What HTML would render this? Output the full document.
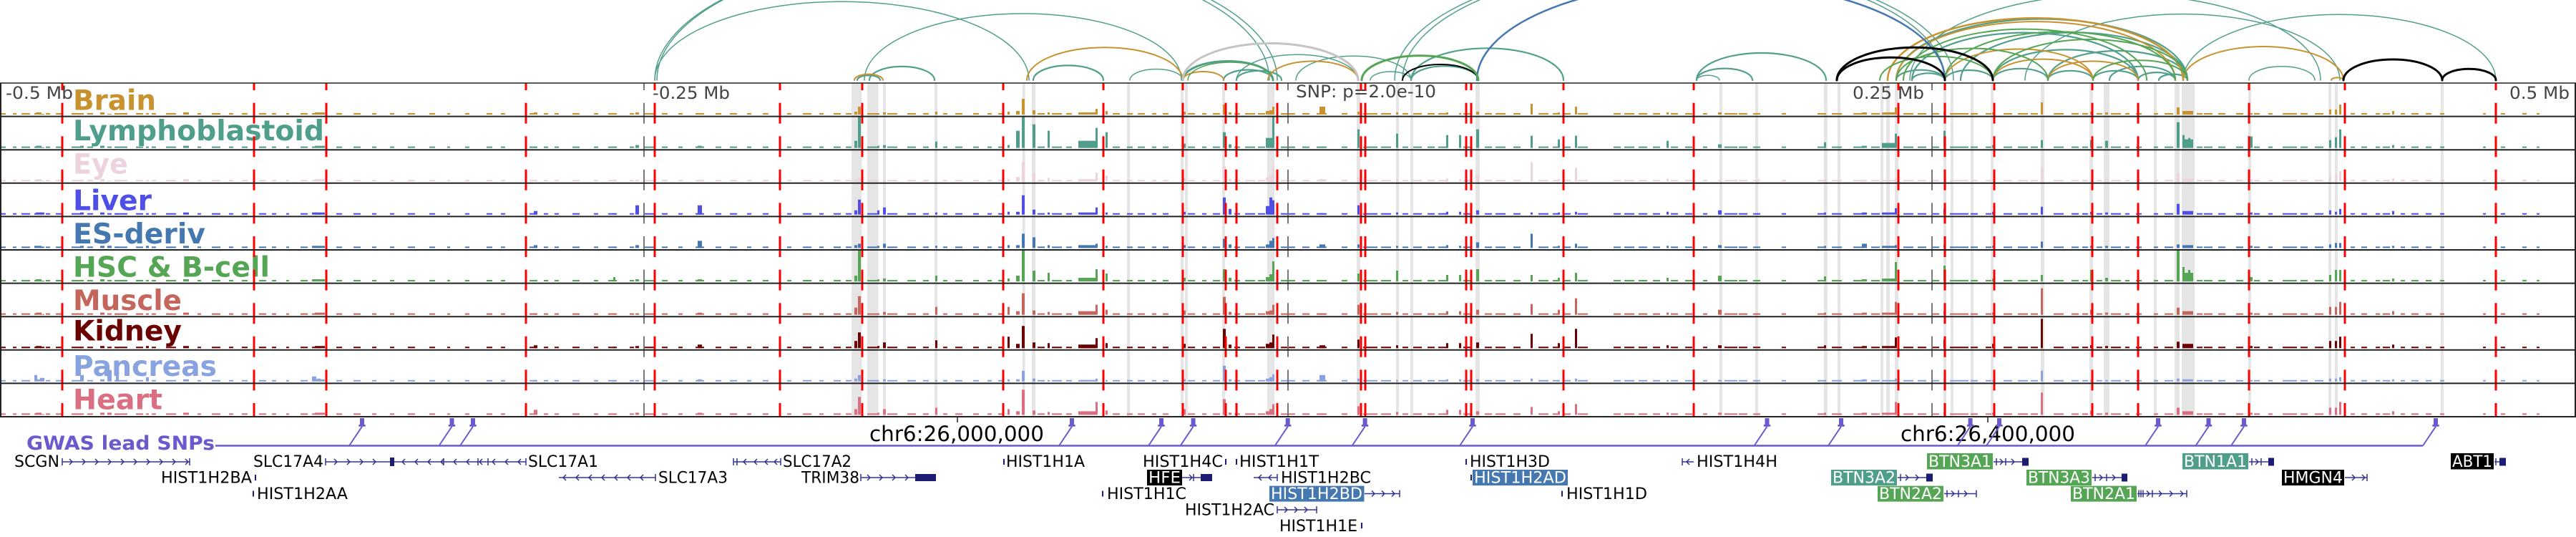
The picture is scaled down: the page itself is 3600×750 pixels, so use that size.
<!DOCTYPE html>
<html><head><meta charset="utf-8"><style>
html,body{margin:0;padding:0;background:#fff;}
svg{display:block;}
text{font-family:"DejaVu Sans","Liberation Sans",sans-serif;}
</style></head><body>
<svg width="3600" height="750" viewBox="0 0 3600 750" xmlns="http://www.w3.org/2000/svg">
<defs>
<clipPath id="arcclip"><rect x="0" y="0" width="3600" height="114"/></clipPath>
<path id="noise" d="M2 0h6v-2h-6zM18 0h5v-2h-5zM30 0h12v-2h-12zM50 0h8v-3h-8zM64 0h6v-2h-6zM78 0h10v-2h-10zM100 0h14v-2h-14zM122 0h8v-2h-8zM140 0h6v-3h-6zM160 0h18v-2h-18zM190 0h10v-2h-10zM212 0h6v-2h-6zM232 0h14v-2h-14zM256 0h8v-3h-8zM276 0h5v-2h-5zM296 0h12v-2h-12zM320 0h6v-2h-6zM338 0h8v-2h-8zM362 0h10v-2h-10zM380 0h6v-2h-6zM400 0h4v-2h-4zM420 0h10v-2h-10zM440 0h14v-3h-14zM470 0h8v-2h-8zM494 0h10v-2h-10zM520 0h6v-2h-6zM545 0h6v-2h-6zM570 0h10v-2h-10zM600 0h8v-2h-8zM625 0h4v-2h-4zM650 0h6v-2h-6zM680 0h8v-2h-8zM700 0h6v-2h-6zM740 0h10v-2h-10zM760 0h6v-2h-6zM775 0h6v-2h-6zM800 0h10v-2h-10zM830 0h6v-2h-6zM850 0h12v-2h-12zM880 0h6v-2h-6zM900 0h14v-2h-14zM925 0h8v-2h-8zM948 0h6v-2h-6zM972 0h12v-2h-12zM1000 0h8v-2h-8zM1020 0h10v-2h-10zM1044 0h6v-2h-6zM1066 0h8v-2h-8zM1100 0h6v-2h-6zM1122 0h12v-2h-12zM1145 0h6v-2h-6zM1165 0h10v-2h-10zM1182 0h8v-2h-8zM1212 0h16v-2h-16zM1240 0h14v-2h-14zM1268 0h12v-2h-12zM1290 0h8v-2h-8zM1318 0h6v-2h-6zM1335 0h10v-2h-10zM1360 0h8v-2h-8zM1380 0h6v-2h-6zM1395 0h6v-2h-6zM1450 0h10v-2h-10zM1470 0h14v-2h-14zM1490 0h8v-2h-8zM1510 0h22v-2h-22zM1555 0h10v-2h-10zM1575 0h8v-2h-8zM1590 0h10v-2h-10zM1610 0h6v-2h-6zM1625 0h8v-2h-8zM1660 0h10v-2h-10zM1680 0h6v-2h-6zM1695 0h10v-2h-10zM1725 0h8v-2h-8zM1740 0h14v-2h-14zM1758 0h10v-2h-10zM1790 0h20v-2h-20zM1820 0h10v-2h-10zM1840 0h14v-2h-14zM1875 0h8v-2h-8zM1905 0h20v-2h-20zM1930 0h14v-2h-14zM1960 0h8v-2h-8zM1975 0h12v-2h-12zM1995 0h10v-2h-10zM2010 0h12v-2h-12zM2045 0h10v-2h-10zM2075 0h10v-2h-10zM2090 0h14v-2h-14zM2115 0h10v-2h-10zM2150 0h14v-2h-14zM2170 0h8v-2h-8zM2185 0h10v-2h-10zM2205 0h14v-2h-14zM2255 0h10v-2h-10zM2270 0h14v-2h-14zM2290 0h12v-2h-12zM2310 0h10v-2h-10zM2335 0h10v-2h-10zM2355 0h10v-2h-10zM2380 0h6v-2h-6zM2410 0h18v-2h-18zM2430 0h12v-2h-12zM2450 0h10v-2h-10zM2490 0h6v-2h-6zM2540 0h12v-2h-12zM2560 0h14v-2h-14zM2590 0h16v-2h-16zM2615 0h12v-2h-12zM2660 0h14v-2h-14zM2680 0h12v-2h-12zM2700 0h10v-2h-10zM2725 0h26v-2h-26zM2754 0h10v-2h-10zM2775 0h8v-2h-8zM2800 0h12v-2h-12zM2820 0h14v-2h-14zM2838 0h10v-2h-10zM2870 0h14v-2h-14zM2895 0h10v-2h-10zM2910 0h8v-2h-8zM2930 0h8v-2h-8zM2950 0h14v-2h-14zM2970 0h6v-2h-6zM2985 0h8v-2h-8zM3010 0h6v-2h-6zM3025 0h12v-2h-12zM3070 0h8v-2h-8zM3080 0h12v-2h-12zM3100 0h10v-2h-10zM3125 0h10v-2h-10zM3150 0h8v-2h-8zM3170 0h6v-2h-6zM3190 0h20v-2h-20zM3215 0h10v-2h-10zM3235 0h12v-2h-12zM3285 0h6v-2h-6zM3300 0h8v-2h-8zM3320 0h6v-2h-6zM3330 0h10v-2h-10zM3355 0h6v-2h-6zM3370 0h10v-2h-10zM3390 0h8v-2h-8zM3410 0h6v-2h-6zM3470 0h4v-2h-4zM3495 0h6v-2h-6zM3525 0h6v-2h-6zM3545 0h4v-2h-4z"/>
</defs>
<rect x="0" y="0" width="3600" height="750" fill="#fff"/>

<!-- arcs -->
<g clip-path="url(#arcclip)" fill="none" stroke-linecap="round">
<g stroke="#52a08c" stroke-width="1.5">
<path d="M915 112A429.5 180.4 0 0 1 1774 112"/>
<path d="M918 112A433.5 182 0 0 1 1785 112"/>
<path d="M915 112A261.5 109.8 0 0 1 1438 112"/>
<path d="M1208 112A221.5 93 0 0 1 1651 112"/>
<path d="M1579 112A37 15.5 0 0 1 1653 112"/>
<path d="M1728 112A85 35.7 0 0 1 1898 112"/>
<path d="M1811 112A80.5 33.8 0 0 1 1972 112"/>
<path d="M1915 112A28.5 12 0 0 1 1972 112"/>
<path d="M1949 112A384.5 161.5 0 0 1 2718 112"/>
<path d="M1960 112A385 161.7 0 0 1 2730 112"/>
<path d="M2371 112A16 6.7 0 0 1 2403 112"/>
<path d="M2669 112A287 120.5 0 0 1 3243 112"/>
<path d="M2830 112A220 92.4 0 0 1 3270 112"/>
<path d="M3051 112A218.5 91.8 0 0 1 3488 112"/>
<path d="M3143 112A46 19.3 0 0 1 3235 112"/>
</g>
<g stroke="#52a08c" stroke-width="2.2">
<path d="M1215 112A45.5 19.1 0 0 1 1306 112"/>
<path d="M1198 112A16 6.7 0 0 1 1230 112"/>
<path d="M1444 112A49 20.6 0 0 1 1542 112"/>
<path d="M1710 112A34.5 14.5 0 0 1 1779 112"/>
<path d="M1728 112A31.5 13.2 0 0 1 1791 112"/>
<path d="M1972 112A47 19.7 0 0 1 2066 112"/>
<path d="M1972 112A106.5 44.7 0 0 1 2185 112"/>
<path d="M2371 112A90.5 38 0 0 1 2552 112"/>
<path d="M2371 112A39 16.4 0 0 1 2449 112"/>
<path d="M2650 112A203.5 85.5 0 0 1 3057 112"/>
<path d="M2672 112A158 66.4 0 0 1 2988 112"/>
<path d="M2740 112A158.5 66.6 0 0 1 3057 112"/>
<path d="M2785 112A101.5 42.6 0 0 1 2988 112"/>
<path d="M2862 112A97.5 41 0 0 1 3057 112"/>
<path d="M2948 112A46 19.3 0 0 1 3040 112"/>
<path d="M2650 112A34 14.3 0 0 1 2718 112"/>
<path d="M2672 112A23 9.7 0 0 1 2718 112"/>
<path d="M2718 112A33.5 14 0 0 1 2785 112"/>
<path d="M2785 112A38.5 16.2 0 0 1 2862 112"/>
<path d="M2862 112A31.5 13.2 0 0 1 2925 112"/>
<path d="M2925 112A31.5 13.2 0 0 1 2988 112"/>
<path d="M2988 112A26 10.9 0 0 1 3040 112"/>
<path d="M3017 112A20 8.4 0 0 1 3057 112"/>
</g>
<path d="M1653 112A63 26.5 0 0 1 1779 112" stroke="#52a08c" stroke-width="3"/>
<g stroke="#c8922e" stroke-width="2">
<path d="M1194 112A20 8.4 0 0 1 1234 112"/>
<path d="M1435 112A109 45.8 0 0 1 1653 112"/>
<path d="M1653 112A28.5 12 0 0 1 1710 112"/>
<path d="M1772 112A63 26.5 0 0 1 1898 112"/>
<path d="M2638 112A206.5 86.7 0 0 1 3051 112" stroke-width="2.5"/>
<path d="M2650 112A195 81.9 0 0 1 3040 112"/>
<path d="M2718 112A103.5 43.5 0 0 1 2925 112"/>
<path d="M2785 112A70 29.4 0 0 1 2925 112"/>
<path d="M2862 112A63 26.5 0 0 1 2988 112"/>
<path d="M3051 112A112 47 0 0 1 3275 112"/>
<path d="M3258 112A8.5 3.6 0 0 1 3275 112"/>
</g>
<g stroke="#55a654" stroke-width="2">
<path d="M1660 112A59.5 25 0 0 1 1779 112" stroke-width="1.5"/>
<path d="M2660 112A170 71.4 0 0 1 3000 112"/>
<path d="M2718 112A161 67.6 0 0 1 3040 112"/>
<path d="M2785 112A136 57 0 0 1 3057 112"/>
<path d="M2925 112A66 27.7 0 0 1 3057 112"/>
<path d="M2627 112A79 33.2 0 0 1 2785 112"/>
<path d="M2650 112A106 44.5 0 0 1 2862 112"/>
</g>
<path d="M1653 112A122.5 51.5 0 0 1 1898 112" stroke="#c4c4c4" stroke-width="3"/>
<path d="M2064 112A327 137.3 0 0 1 2718 112" stroke="#4577b0" stroke-width="2.5"/>
<g stroke="#000" stroke-width="3">
<path d="M1960 112A53 22 0 0 1 2066 112" stroke-width="2"/>
<path d="M2567 112A109 45.8 0 0 1 2785 112"/>
<path d="M2567 112A75.5 31.7 0 0 1 2718 112"/>
<path d="M3275 112A69 29 0 0 1 3413 112"/>
<path d="M3413 112A37.5 15.8 0 0 1 3488 112"/>
</g>
<path d="M1903 112A81.5 34.2 0 0 1 2066 112" stroke="#55a654" stroke-width="3"/>
</g>

<!-- gray bands -->
<g fill="#e5e5e5">
<rect x="1190" y="116" width="14.5" height="466"/>
<rect x="1212" y="116" width="15.5" height="466"/>
<rect x="1234" y="116" width="4" height="466"/>
<rect x="1306" y="116" width="4" height="466"/>
<rect x="1429" y="116" width="3.5" height="466"/>
<rect x="1442" y="116" width="5" height="466"/>
<rect x="1575" y="116" width="4" height="466"/>
<rect x="1650" y="116" width="4" height="466"/>
<rect x="1656" y="116" width="4" height="466"/>
<rect x="1708" y="116" width="4" height="466"/>
<rect x="1771" y="116" width="10" height="466"/>
<rect x="1896" y="116" width="5" height="466"/>
<rect x="1951" y="116" width="4" height="466"/>
<rect x="1971" y="116" width="4" height="466"/>
<rect x="2062" y="116" width="6" height="466"/>
<rect x="2403" y="116" width="4" height="466"/>
<rect x="2453" y="116" width="4" height="466"/>
<rect x="2549" y="116" width="5" height="466"/>
<rect x="2568" y="116" width="4" height="466"/>
<rect x="2628" y="116" width="4" height="466"/>
<rect x="2636" y="116" width="5" height="466"/>
<rect x="2648" y="116" width="5" height="466"/>
<rect x="2716" y="116" width="4" height="466"/>
<rect x="2726" y="116" width="4" height="466"/>
<rect x="2754" y="116" width="4" height="466"/>
<rect x="2782" y="116" width="4" height="466"/>
<rect x="2852" y="116" width="5" height="466"/>
<rect x="2920" y="116" width="5" height="466"/>
<rect x="2940" y="116" width="8" height="466"/>
<rect x="3010" y="116" width="4" height="466"/>
<rect x="3039" y="116" width="7" height="466"/>
<rect x="3049" y="116" width="18" height="466"/>
<rect x="3142" y="116" width="4" height="466"/>
<rect x="3254" y="116" width="4" height="466"/>
<rect x="3263" y="116" width="4" height="466"/>
<rect x="3411" y="116" width="4" height="466"/>
</g>

<!-- signal tracks -->
<g transform="translate(0,160)" fill="#c8922e"><use href="#noise"/><path d="M48 0h4v-2h-4zM56 0h6v-1h-6zM112 0h5v-2h-5zM150 0h6v-1h-6zM162 0h4v-1h-4zM204 0h4v-2h-4zM436 0h6v-2h-6zM443 0h5v-1h-5zM746 0h5v-3h-5zM857 0h3v-1h-3zM888 0h5v-3h-5zM975 0h6v-2h-6zM1194 0h4v-4h-4zM1199 0h4v-11h-4zM1226 0h3v-2h-3zM1234 0h4v-3h-4zM1307 0h3v-4h-3zM1408 0h3v-4h-3zM1420 0h5v-5h-5zM1428 0h4v-22h-4zM1443 0h4v-6h-4zM1464 0h3v-3h-3zM1507 0h24v-3h-24zM1531 0h3v-8h-3zM1545 0h3v-5h-3zM1653 0h4v-4h-4zM1709 0h4v-14h-4zM1717 0h4v-3h-4zM1769 0h10v-5h-10zM1774 0h4v-6h-4zM1778 0h3v-11h-3zM1844 0h8v-11h-8zM1897 0h3v-4h-3zM1951 0h3v-3h-3zM2021 0h3v-3h-3zM2039 0h3v-2h-3zM2063 0h4v-4h-4zM2139 0h3v-15h-3zM2177 0h3v-3h-3zM2201 0h3v-11h-3zM2329 0h3v-3h-3zM2401 0h5v-3h-5zM2549 0h3v-2h-3zM2602 0h7v-3h-7zM2630 0h18v-3h-18zM2648 0h3v-10h-3zM2716 0h3v-4h-3zM2784 0h3v-3h-3zM2852 0h3v-17h-3zM2921 0h3v-4h-3zM2942 0h4v-3h-4zM3042 0h4v-10h-4zM3050 0h15v-5h-15zM3050 0h3v-4h-3zM3058 0h3v-3h-3zM3144 0h4v-2h-4zM3255 0h3v-7h-3zM3263 0h3v-7h-3zM3269 0h3v-14h-3zM3343 0h3v-5h-3z"/></g>
<g transform="translate(0,206.6)" fill="#4f9e8b"><use href="#noise"/><path d="M48 0h4v-2h-4zM56 0h6v-1h-6zM112 0h5v-3h-5zM150 0h6v-2h-6zM162 0h4v-1h-4zM204 0h4v-2h-4zM436 0h6v-2h-6zM443 0h5v-1h-5zM746 0h5v-2h-5zM857 0h3v-2h-3zM888 0h5v-4h-5zM975 0h6v-3h-6zM1194 0h4v-10h-4zM1199 0h4v-44h-4zM1226 0h3v-3h-3zM1234 0h4v-4h-4zM1307 0h3v-9h-3zM1408 0h3v-4h-3zM1420 0h5v-24h-5zM1428 0h4v-44h-4zM1443 0h4v-33h-4zM1464 0h3v-24h-3zM1507 0h24v-10h-24zM1531 0h3v-28h-3zM1545 0h3v-22h-3zM1653 0h4v-6h-4zM1709 0h4v-22h-4zM1717 0h4v-5h-4zM1769 0h10v-14h-10zM1774 0h4v-10h-4zM1778 0h3v-44h-3zM1844 0h8v-2h-8zM1897 0h3v-26h-3zM1951 0h3v-20h-3zM2021 0h3v-18h-3zM2039 0h3v-18h-3zM2063 0h4v-26h-4zM2139 0h3v-17h-3zM2177 0h3v-12h-3zM2201 0h3v-17h-3zM2329 0h3v-10h-3zM2401 0h5v-5h-5zM2549 0h3v-8h-3zM2602 0h7v-3h-7zM2630 0h18v-7h-18zM2648 0h3v-20h-3zM2716 0h3v-24h-3zM2784 0h3v-4h-3zM2852 0h3v-11h-3zM2921 0h3v-11h-3zM2942 0h4v-10h-4zM3042 0h4v-36h-4zM3050 0h15v-12h-15zM3050 0h3v-18h-3zM3058 0h3v-14h-3zM3144 0h4v-16h-4zM3255 0h3v-11h-3zM3263 0h3v-15h-3zM3269 0h3v-26h-3zM3343 0h3v-4h-3z"/></g>
<g transform="translate(0,253.2)" fill="#ecd3de"><use href="#noise"/><path d="M48 0h4v-2h-4zM56 0h6v-1h-6zM112 0h5v-2h-5zM150 0h6v-1h-6zM162 0h4v-1h-4zM204 0h4v-2h-4zM436 0h6v-2h-6zM443 0h5v-1h-5zM746 0h5v-2h-5zM857 0h3v-1h-3zM888 0h5v-2h-5zM975 0h6v-2h-6zM1194 0h4v-3h-4zM1199 0h4v-5h-4zM1226 0h3v-1h-3zM1234 0h4v-2h-4zM1307 0h3v-2h-3zM1408 0h3v-3h-3zM1420 0h5v-6h-5zM1428 0h4v-27h-4zM1443 0h4v-12h-4zM1464 0h3v-5h-3zM1507 0h24v-3h-24zM1531 0h3v-12h-3zM1545 0h3v-8h-3zM1653 0h4v-4h-4zM1709 0h4v-21h-4zM1717 0h4v-3h-4zM1769 0h10v-5h-10zM1774 0h4v-8h-4zM1778 0h3v-21h-3zM1844 0h8v-3h-8zM1897 0h3v-5h-3zM1951 0h3v-3h-3zM2021 0h3v-4h-3zM2039 0h3v-3h-3zM2063 0h4v-9h-4zM2139 0h3v-27h-3zM2177 0h3v-3h-3zM2201 0h3v-19h-3zM2329 0h3v-4h-3zM2401 0h5v-2h-5zM2549 0h3v-3h-3zM2602 0h7v-2h-7zM2630 0h18v-2h-18zM2648 0h3v-4h-3zM2716 0h3v-4h-3zM2784 0h3v-3h-3zM2852 0h3v-20h-3zM2921 0h3v-3h-3zM2942 0h4v-3h-4zM3042 0h4v-12h-4zM3050 0h15v-4h-15zM3050 0h3v-4h-3zM3058 0h3v-3h-3zM3144 0h4v-3h-4zM3255 0h3v-7h-3zM3263 0h3v-10h-3zM3269 0h3v-14h-3zM3343 0h3v-4h-3z"/></g>
<g transform="translate(0,299.8)" fill="#4f4fe8"><use href="#noise"/><path d="M48 0h4v-2h-4zM56 0h6v-3h-6zM112 0h5v-3h-5zM150 0h6v-2h-6zM162 0h4v-1h-4zM204 0h4v-2h-4zM436 0h6v-3h-6zM443 0h5v-2h-5zM746 0h5v-5h-5zM857 0h3v-2h-3zM888 0h5v-13h-5zM975 0h6v-13h-6zM1194 0h4v-6h-4zM1199 0h4v-21h-4zM1226 0h3v-6h-3zM1234 0h4v-10h-4zM1307 0h3v-3h-3zM1408 0h3v-4h-3zM1420 0h5v-4h-5zM1428 0h4v-27h-4zM1443 0h4v-7h-4zM1464 0h3v-3h-3zM1507 0h24v-3h-24zM1531 0h3v-10h-3zM1545 0h3v-3h-3zM1653 0h4v-4h-4zM1709 0h4v-24h-4zM1717 0h4v-8h-4zM1769 0h10v-12h-10zM1774 0h4v-24h-4zM1778 0h3v-20h-3zM1844 0h8v-2h-8zM1897 0h3v-13h-3zM1951 0h3v-3h-3zM2021 0h3v-4h-3zM2039 0h3v-4h-3zM2063 0h4v-6h-4zM2139 0h3v-3h-3zM2177 0h3v-3h-3zM2201 0h3v-4h-3zM2329 0h3v-4h-3zM2401 0h5v-6h-5zM2549 0h3v-3h-3zM2602 0h7v-3h-7zM2630 0h18v-3h-18zM2648 0h3v-9h-3zM2716 0h3v-8h-3zM2784 0h3v-4h-3zM2852 0h3v-11h-3zM2921 0h3v-4h-3zM2942 0h4v-3h-4zM3042 0h4v-15h-4zM3050 0h15v-5h-15zM3050 0h3v-4h-3zM3058 0h3v-3h-3zM3144 0h4v-3h-4zM3255 0h3v-6h-3zM3263 0h3v-4h-3zM3269 0h3v-8h-3zM3343 0h3v-5h-3z"/></g>
<g transform="translate(0,346.4)" fill="#4577b0"><use href="#noise"/><path d="M48 0h4v-3h-4zM56 0h6v-2h-6zM112 0h5v-3h-5zM150 0h6v-3h-6zM162 0h4v-2h-4zM204 0h4v-3h-4zM436 0h6v-3h-6zM443 0h5v-2h-5zM746 0h5v-4h-5zM857 0h3v-2h-3zM888 0h5v-4h-5zM975 0h6v-10h-6zM1194 0h4v-4h-4zM1199 0h4v-6h-4zM1226 0h3v-3h-3zM1234 0h4v-6h-4zM1307 0h3v-3h-3zM1408 0h3v-4h-3zM1420 0h5v-4h-5zM1428 0h4v-20h-4zM1443 0h4v-15h-4zM1464 0h3v-4h-3zM1507 0h24v-4h-24zM1531 0h3v-6h-3zM1545 0h3v-3h-3zM1653 0h4v-4h-4zM1709 0h4v-13h-4zM1717 0h4v-5h-4zM1769 0h10v-5h-10zM1774 0h4v-10h-4zM1778 0h3v-14h-3zM1844 0h8v-5h-8zM1897 0h3v-5h-3zM1951 0h3v-3h-3zM2021 0h3v-4h-3zM2039 0h3v-3h-3zM2063 0h4v-8h-4zM2139 0h3v-20h-3zM2177 0h3v-3h-3zM2201 0h3v-6h-3zM2329 0h3v-3h-3zM2401 0h5v-4h-5zM2549 0h3v-3h-3zM2602 0h7v-6h-7zM2630 0h18v-3h-18zM2648 0h3v-4h-3zM2716 0h3v-4h-3zM2784 0h3v-3h-3zM2852 0h3v-9h-3zM2921 0h3v-3h-3zM2942 0h4v-3h-4zM3042 0h4v-5h-4zM3050 0h15v-4h-15zM3050 0h3v-3h-3zM3058 0h3v-3h-3zM3144 0h4v-3h-4zM3255 0h3v-5h-3zM3263 0h3v-7h-3zM3269 0h3v-7h-3zM3343 0h3v-3h-3z"/></g>
<g transform="translate(0,393)" fill="#55a654"><use href="#noise"/><path d="M48 0h4v-2h-4zM56 0h6v-1h-6zM112 0h5v-2h-5zM150 0h6v-2h-6zM162 0h4v-1h-4zM204 0h4v-2h-4zM436 0h6v-3h-6zM443 0h5v-2h-5zM746 0h5v-2h-5zM857 0h3v-6h-3zM888 0h5v-3h-5zM975 0h6v-3h-6zM1194 0h4v-8h-4zM1199 0h4v-44h-4zM1226 0h3v-3h-3zM1234 0h4v-4h-4zM1307 0h3v-8h-3zM1408 0h3v-4h-3zM1420 0h5v-8h-5zM1428 0h4v-44h-4zM1443 0h4v-15h-4zM1464 0h3v-12h-3zM1507 0h24v-5h-24zM1531 0h3v-17h-3zM1545 0h3v-11h-3zM1653 0h4v-5h-4zM1709 0h4v-17h-4zM1717 0h4v-5h-4zM1769 0h10v-6h-10zM1774 0h4v-10h-4zM1778 0h3v-28h-3zM1844 0h8v-2h-8zM1897 0h3v-11h-3zM1951 0h3v-15h-3zM2021 0h3v-9h-3zM2039 0h3v-9h-3zM2063 0h4v-17h-4zM2139 0h3v-9h-3zM2177 0h3v-5h-3zM2201 0h3v-12h-3zM2329 0h3v-5h-3zM2401 0h5v-8h-5zM2549 0h3v-7h-3zM2602 0h7v-3h-7zM2630 0h18v-4h-18zM2648 0h3v-27h-3zM2716 0h3v-22h-3zM2784 0h3v-4h-3zM2852 0h3v-9h-3zM2921 0h3v-16h-3zM2942 0h4v-5h-4zM3042 0h4v-44h-4zM3050 0h15v-12h-15zM3050 0h3v-20h-3zM3058 0h3v-16h-3zM3144 0h4v-6h-4zM3255 0h3v-9h-3zM3263 0h3v-16h-3zM3269 0h3v-16h-3zM3343 0h3v-4h-3z"/></g>
<g transform="translate(0,439.6)" fill="#c4665c"><use href="#noise"/><path d="M48 0h4v-2h-4zM56 0h6v-1h-6zM112 0h5v-2h-5zM150 0h6v-2h-6zM162 0h4v-1h-4zM204 0h4v-2h-4zM436 0h6v-2h-6zM443 0h5v-1h-5zM746 0h5v-2h-5zM857 0h3v-2h-3zM888 0h5v-2h-5zM975 0h6v-3h-6zM1194 0h4v-10h-4zM1199 0h4v-26h-4zM1226 0h3v-2h-3zM1234 0h4v-4h-4zM1307 0h3v-11h-3zM1408 0h3v-11h-3zM1420 0h5v-5h-5zM1428 0h4v-30h-4zM1443 0h4v-6h-4zM1464 0h3v-4h-3zM1507 0h24v-5h-24zM1531 0h3v-14h-3zM1545 0h3v-7h-3zM1653 0h4v-6h-4zM1709 0h4v-25h-4zM1717 0h4v-4h-4zM1769 0h10v-5h-10zM1774 0h4v-6h-4zM1778 0h3v-14h-3zM1844 0h8v-2h-8zM1897 0h3v-14h-3zM1951 0h3v-4h-3zM2021 0h3v-5h-3zM2039 0h3v-5h-3zM2063 0h4v-7h-4zM2139 0h3v-15h-3zM2177 0h3v-7h-3zM2201 0h3v-23h-3zM2329 0h3v-3h-3zM2401 0h5v-7h-5zM2549 0h3v-3h-3zM2602 0h7v-3h-7zM2630 0h18v-3h-18zM2648 0h3v-18h-3zM2716 0h3v-5h-3zM2784 0h3v-3h-3zM2852 0h3v-37h-3zM2921 0h3v-7h-3zM2942 0h4v-3h-4zM3042 0h4v-10h-4zM3050 0h15v-5h-15zM3050 0h3v-4h-3zM3058 0h3v-3h-3zM3144 0h4v-3h-4zM3255 0h3v-11h-3zM3263 0h3v-11h-3zM3269 0h3v-18h-3zM3343 0h3v-5h-3z"/></g>
<g transform="translate(0,486.2)" fill="#6b0000"><use href="#noise"/><path d="M48 0h4v-2h-4zM56 0h6v-2h-6zM112 0h5v-2h-5zM150 0h6v-2h-6zM162 0h4v-1h-4zM204 0h4v-3h-4zM436 0h6v-2h-6zM443 0h5v-2h-5zM746 0h5v-4h-5zM857 0h3v-2h-3zM888 0h5v-3h-5zM975 0h6v-5h-6zM1194 0h4v-10h-4zM1199 0h4v-22h-4zM1226 0h3v-3h-3zM1234 0h4v-8h-4zM1307 0h3v-11h-3zM1408 0h3v-16h-3zM1420 0h5v-6h-5zM1428 0h4v-31h-4zM1443 0h4v-8h-4zM1464 0h3v-7h-3zM1507 0h24v-5h-24zM1531 0h3v-14h-3zM1545 0h3v-7h-3zM1653 0h4v-6h-4zM1709 0h4v-27h-4zM1717 0h4v-5h-4zM1769 0h10v-6h-10zM1774 0h4v-8h-4zM1778 0h3v-19h-3zM1844 0h8v-4h-8zM1897 0h3v-12h-3zM1951 0h3v-4h-3zM2021 0h3v-7h-3zM2039 0h3v-7h-3zM2063 0h4v-8h-4zM2139 0h3v-20h-3zM2177 0h3v-7h-3zM2201 0h3v-27h-3zM2329 0h3v-4h-3zM2401 0h5v-4h-5zM2549 0h3v-4h-3zM2602 0h7v-3h-7zM2630 0h18v-3h-18zM2648 0h3v-15h-3zM2716 0h3v-12h-3zM2784 0h3v-6h-3zM2852 0h3v-41h-3zM2921 0h3v-4h-3zM2942 0h4v-3h-4zM3042 0h4v-9h-4zM3050 0h15v-6h-15zM3050 0h3v-5h-3zM3058 0h3v-4h-3zM3144 0h4v-3h-4zM3255 0h3v-10h-3zM3263 0h3v-10h-3zM3269 0h3v-16h-3zM3343 0h3v-5h-3z"/></g>
<g transform="translate(0,532.8)" fill="#89a3e1"><use href="#noise"/><path d="M48 0h4v-9h-4zM56 0h6v-5h-6zM112 0h5v-9h-5zM150 0h6v-16h-6zM162 0h4v-8h-4zM204 0h4v-6h-4zM436 0h6v-7h-6zM443 0h5v-4h-5zM746 0h5v-2h-5zM857 0h3v-1h-3zM888 0h5v-2h-5zM975 0h6v-3h-6zM1194 0h4v-4h-4zM1199 0h4v-9h-4zM1226 0h3v-1h-3zM1234 0h4v-3h-4zM1307 0h3v-2h-3zM1408 0h3v-3h-3zM1420 0h5v-3h-5zM1428 0h4v-15h-4zM1443 0h4v-4h-4zM1464 0h3v-2h-3zM1507 0h24v-2h-24zM1531 0h3v-4h-3zM1545 0h3v-2h-3zM1653 0h4v-3h-4zM1709 0h4v-22h-4zM1717 0h4v-3h-4zM1769 0h10v-4h-10zM1774 0h4v-6h-4zM1778 0h3v-10h-3zM1844 0h8v-9h-8zM1897 0h3v-4h-3zM1951 0h3v-2h-3zM2021 0h3v-3h-3zM2039 0h3v-3h-3zM2063 0h4v-3h-4zM2139 0h3v-4h-3zM2177 0h3v-2h-3zM2201 0h3v-4h-3zM2329 0h3v-2h-3zM2401 0h5v-2h-5zM2549 0h3v-2h-3zM2602 0h7v-3h-7zM2630 0h18v-2h-18zM2648 0h3v-4h-3zM2716 0h3v-3h-3zM2784 0h3v-2h-3zM2852 0h3v-15h-3zM2921 0h3v-2h-3zM2942 0h4v-2h-4zM3042 0h4v-4h-4zM3050 0h15v-3h-15zM3050 0h3v-2h-3zM3058 0h3v-2h-3zM3144 0h4v-2h-4zM3255 0h3v-4h-3zM3263 0h3v-4h-3zM3269 0h3v-6h-3zM3343 0h3v-3h-3z"/></g>
<g transform="translate(0,579.4)" fill="#d96f80"><use href="#noise"/><path d="M48 0h4v-2h-4zM56 0h6v-1h-6zM112 0h5v-2h-5zM150 0h6v-3h-6zM162 0h4v-1h-4zM204 0h4v-2h-4zM436 0h6v-2h-6zM443 0h5v-1h-5zM746 0h5v-7h-5zM857 0h3v-2h-3zM888 0h5v-3h-5zM975 0h6v-3h-6zM1194 0h4v-8h-4zM1199 0h4v-25h-4zM1226 0h3v-3h-3zM1234 0h4v-8h-4zM1307 0h3v-10h-3zM1408 0h3v-8h-3zM1420 0h5v-5h-5zM1428 0h4v-35h-4zM1443 0h4v-6h-4zM1464 0h3v-4h-3zM1507 0h24v-5h-24zM1531 0h3v-18h-3zM1545 0h3v-6h-3zM1653 0h4v-8h-4zM1709 0h4v-22h-4zM1717 0h4v-3h-4zM1769 0h10v-5h-10zM1774 0h4v-8h-4zM1778 0h3v-15h-3zM1844 0h8v-2h-8zM1897 0h3v-12h-3zM1951 0h3v-4h-3zM2021 0h3v-7h-3zM2039 0h3v-7h-3zM2063 0h4v-5h-4zM2139 0h3v-11h-3zM2177 0h3v-5h-3zM2201 0h3v-15h-3zM2329 0h3v-3h-3zM2401 0h5v-3h-5zM2549 0h3v-3h-3zM2602 0h7v-3h-7zM2630 0h18v-3h-18zM2648 0h3v-18h-3zM2716 0h3v-4h-3zM2784 0h3v-3h-3zM2852 0h3v-31h-3zM2921 0h3v-6h-3zM2942 0h4v-3h-4zM3042 0h4v-10h-4zM3050 0h15v-5h-15zM3050 0h3v-4h-3zM3058 0h3v-3h-3zM3144 0h4v-3h-4zM3255 0h3v-10h-3zM3263 0h3v-10h-3zM3269 0h3v-18h-3zM3343 0h3v-5h-3z"/></g>

<!-- track labels -->
<g font-weight="bold" font-size="39">
<text x="102" y="153.5" fill="#c8922e" textLength="116" lengthAdjust="spacingAndGlyphs">Brain</text>
<text x="102" y="196.1" fill="#4f9e8b" textLength="351" lengthAdjust="spacingAndGlyphs">Lymphoblastoid</text>
<text x="102" y="242.7" fill="#ecd3de" textLength="77" lengthAdjust="spacingAndGlyphs">Eye</text>
<text x="102" y="293.3" fill="#4f4fe8" textLength="110" lengthAdjust="spacingAndGlyphs">Liver</text>
<text x="102" y="339.9" fill="#4577b0" textLength="185" lengthAdjust="spacingAndGlyphs">ES-deriv</text>
<text x="102" y="386.5" fill="#55a654" textLength="275" lengthAdjust="spacingAndGlyphs">HSC &amp; B-cell</text>
<text x="102" y="433.1" fill="#c4665c" textLength="152" lengthAdjust="spacingAndGlyphs">Muscle</text>
<text x="102" y="475.7" fill="#6b0000" textLength="152" lengthAdjust="spacingAndGlyphs">Kidney</text>
<text x="102" y="525.1" fill="#89a3e1" textLength="201" lengthAdjust="spacingAndGlyphs">Pancreas</text>
<text x="102" y="571.7" fill="#d96f80" textLength="125" lengthAdjust="spacingAndGlyphs">Heart</text>
</g>

<!-- axis labels -->
<g font-size="24" fill="#444">
<text x="8" y="138" textLength="94" lengthAdjust="spacingAndGlyphs">-0.5 Mb</text>
<text x="912" y="138" textLength="108" lengthAdjust="spacingAndGlyphs">-0.25 Mb</text>
<text x="1811" y="136" textLength="196" lengthAdjust="spacingAndGlyphs">SNP: p=2.0e-10</text>
<text x="2589" y="138" textLength="100" lengthAdjust="spacingAndGlyphs">0.25 Mb</text>
<text x="3507" y="138" textLength="84" lengthAdjust="spacingAndGlyphs">0.5 Mb</text>
</g>

<!-- gray dashed axis lines -->
<path d="M900 116V582M1800 116V582M2700 116V582" stroke="#777" stroke-width="2" stroke-dasharray="29 17.6" stroke-dashoffset="19" fill="none"/>

<!-- red dashed lines -->
<path d="M87 116V582M355 116V582M456 116V582M735 116V582M915 116V582M1090 116V582M1205 116V582M1402 116V582M1542 116V582M1653 116V582M1713 116V582M1728 116V582M1785 116V582M1902 116V582M1908 116V582M2049 116V582M2056 116V582M2185 116V582M2367 116V582M2653 116V582M2718 116V582M2787 116V582M2924 116V582M2988 116V582M3143 116V582M3277 116V582M3488 116V582" stroke="#ff0000" stroke-width="3" stroke-dasharray="29 17.6" stroke-dashoffset="19" fill="none"/>

<!-- separators / frame -->
<path d="M0 162.6H3600M0 209.2H3600M0 255.8H3600M0 302.4H3600M0 349H3600M0 395.6H3600M0 442.2H3600M0 488.8H3600M0 535.4H3600M0 582H3600M1 116V582M3599 116V582" stroke="#222" stroke-width="2" fill="none"/>
<path d="M0 116H3600" stroke="#222" stroke-width="1.5" fill="none"/>

<!-- chr ticks and labels -->
<path d="M1338 582V590M2778 582V590" stroke="#222" stroke-width="1.5"/>
<text x="1215" y="616" font-size="29" fill="#000" textLength="244" lengthAdjust="spacingAndGlyphs">chr6:26,000,000</text>
<text x="2656" y="616" font-size="29" fill="#000" textLength="244" lengthAdjust="spacingAndGlyphs">chr6:26,400,000</text>

<!-- GWAS track -->
<text x="37" y="628" font-size="27" font-weight="bold" fill="#6a5acd" textLength="263" lengthAdjust="spacingAndGlyphs">GWAS lead SNPs</text>
<path d="M301 622.5H3386" stroke="#6a5acd" stroke-width="2.5" fill="none"/>
<path d="M506 595.7L488 622.5M631.5 595.7L613.5 622.5M661 595.7L643 622.5M1498 595.7L1480 622.5M1623 595.7L1605 622.5M1667.6 595.7L1649.6 622.5M1799.7 595.7L1781.7 622.5M1907.6 595.7L1889.6 622.5M2058 595.7L2040 622.5M2469.5 595.7L2451.5 622.5M2573 595.7L2555 622.5M2753.6 595.7L2735.6 622.5M2794 595.7L2776 622.5M3016 595.7L2998 622.5M3086.5 595.7L3068.5 622.5M3136 595.7L3118 622.5M3404 595.7L3386 622.5" stroke="#6a5acd" stroke-width="2" fill="none"/>
<path fill="#6a5acd" d="M503 584h6v9h1.7v2.7h-9.4v-2.7h1.7zM628.5 584h6v9h1.7v2.7h-9.4v-2.7h1.7zM658 584h6v9h1.7v2.7h-9.4v-2.7h1.7zM1495 584h6v9h1.7v2.7h-9.4v-2.7h1.7zM1620 584h6v9h1.7v2.7h-9.4v-2.7h1.7zM1664.6 584h6v9h1.7v2.7h-9.4v-2.7h1.7zM1796.7 584h6v9h1.7v2.7h-9.4v-2.7h1.7zM1904.6 584h6v9h1.7v2.7h-9.4v-2.7h1.7zM2055 584h6v9h1.7v2.7h-9.4v-2.7h1.7zM2466.5 584h6v9h1.7v2.7h-9.4v-2.7h1.7zM2570 584h6v9h1.7v2.7h-9.4v-2.7h1.7zM2750.6 584h6v9h1.7v2.7h-9.4v-2.7h1.7zM2791 584h6v9h1.7v2.7h-9.4v-2.7h1.7zM3013 584h6v9h1.7v2.7h-9.4v-2.7h1.7zM3083.5 584h6v9h1.7v2.7h-9.4v-2.7h1.7zM3133 584h6v9h1.7v2.7h-9.4v-2.7h1.7zM3401 584h6v9h1.7v2.7h-9.4v-2.7h1.7z"/>

<!-- gene models -->
<g stroke="#33338f" stroke-width="1.5" fill="none">
<path d="M87 645H265M87 640v10M265 640v10M97 641l4 4l-4 4M115 641l4 4l-4 4M133 641l4 4l-4 4M151 641l4 4l-4 4M169 641l4 4l-4 4M187 641l4 4l-4 4M205 641l4 4l-4 4M223 641l4 4l-4 4M241 641l4 4l-4 4M259 641l4 4l-4 4"/>
<path d="M455 645H735M455 640v10M735 640v10M620 640v10M668 640v10M682 640v10M467 641l4 4l-4 4M485 641l4 4l-4 4M503 641l4 4l-4 4M521 641l4 4l-4 4M566 641l-4 4l4 4M584 641l-4 4l4 4M602 641l-4 4l4 4M620 641l-4 4l4 4M638 641l-4 4l4 4M656 641l-4 4l4 4M674 641l-4 4l4 4M692 641l-4 4l4 4M710 641l-4 4l4 4M728 641l-4 4l4 4"/>
<path d="M781 667H916M916 662v10M791 663l-4 4l4 4M809 663l-4 4l4 4M827 663l-4 4l4 4M845 663l-4 4l4 4M863 663l-4 4l4 4M881 663l-4 4l4 4M899 663l-4 4l4 4"/>
<path d="M1025 645H1091M1025 640v10M1030 640v10M1091 640v10M1043 641l-4 4l4 4M1058 641l-4 4l4 4M1073 641l-4 4l4 4M1086 641l-4 4l4 4"/>
<path d="M1203 667H1279M1203 662v10M1212 663l4 4l-4 4M1229 663l4 4l-4 4M1247 663l4 4l-4 4M1265 663l4 4l-4 4"/>
<path d="M1652 667H1678M1668 662v10M1662 663l4 4l-4 4"/>
<path d="M1752 667H1785M1785 662v10M1763 663l-4 4l4 4M1777 663l-4 4l4 4"/>
<path d="M1907 689.5H1956M1956 684.5v10M1917 685.5l4 4l-4 4M1931 685.5l4 4l-4 4M1945 685.5l4 4l-4 4"/>
<path d="M1785 712H1840M1785 707v10M1840 707v10M1795 708l4 4l-4 4M1809 708l4 4l-4 4M1823 708l4 4l-4 4"/>
<path d="M2351 645H2367M2351 640v10M2361 641l-4 4l4 4"/>
<path d="M2786 645H2826M2790 640v10M2803 640v10M2795 641l4 4l-4 4M2811 641l4 4l-4 4"/>
<path d="M2652 667H2692M2656 662v10M2663 663l4 4l-4 4M2677 663l4 4l-4 4"/>
<path d="M2717 689.5H2762M2721 684.5v10M2737 684.5v10M2762 684.5v10M2727 685.5l4 4l-4 4M2745 685.5l4 4l-4 4"/>
<path d="M2924 667H2965M2928 662v10M2944 662v10M2934 663l4 4l-4 4M2952 663l4 4l-4 4"/>
<path d="M2987 689.5H3056M2989 684.5v10M2992 684.5v10M2995 684.5v10M3008 684.5v10M3056 684.5v10M3000 685.5l4 4l-4 4M3017 685.5l4 4l-4 4M3032 685.5l4 4l-4 4M3047 685.5l4 4l-4 4"/>
<path d="M3143 645H3170M3147 640v10M3160 640v10M3152 641l4 4l-4 4"/>
<path d="M3277 667H3308M3308 662v10M3287 663l4 4l-4 4M3301 663l4 4l-4 4"/>
<path d="M3486 645H3493M3488 640v10"/>
</g>
<g stroke="#1c1c72" stroke-width="2" fill="none">
<path d="M357 663v8M354 685.5v8M1403 641v8M1713 641v8M1728 641v8M1541 685.5v8M2049 641v8M2056 663v8M2183 685.5v8M1903 730v8"/>
</g>
<g fill="#1c1c72">
<rect x="545" y="639" width="6" height="12"/>
<rect x="1279" y="662" width="29" height="10"/>
<rect x="1678" y="662" width="16" height="10"/>
<rect x="2826" y="639.5" width="9" height="11"/>
<rect x="2692" y="661.5" width="9" height="11"/>
<rect x="2965" y="661.5" width="8" height="11"/>
<rect x="3170" y="639.5" width="8" height="11"/>
<rect x="3493" y="639.5" width="9" height="11"/>
</g>

<!-- gene boxes -->
<rect x="1603" y="656" width="49" height="22" fill="#000"/>
<rect x="1774" y="678.6" width="132.5" height="22" fill="#4577b0"/>
<rect x="2058" y="656" width="133" height="22" fill="#4577b0"/>
<rect x="2693" y="633" width="92" height="22.5" fill="#55a654"/>
<rect x="2559" y="656" width="92" height="22" fill="#4f9e8b"/>
<rect x="2624" y="678.6" width="92" height="22" fill="#55a654"/>
<rect x="2832" y="656" width="91" height="22" fill="#55a654"/>
<rect x="2894" y="678.6" width="92" height="22" fill="#55a654"/>
<rect x="3050" y="633" width="92" height="22.5" fill="#4f9e8b"/>
<rect x="3189" y="656" width="87" height="22" fill="#000"/>
<rect x="3425" y="633" width="60" height="22.5" fill="#000"/>

<!-- gene labels -->
<g font-size="22" fill="#000">
<text x="20" y="652" textLength="63" lengthAdjust="spacingAndGlyphs">SCGN</text>
<text x="354" y="652" textLength="98" lengthAdjust="spacingAndGlyphs">SLC17A4</text>
<text x="738" y="652" textLength="98" lengthAdjust="spacingAndGlyphs">SLC17A1</text>
<text x="1094" y="652" textLength="96" lengthAdjust="spacingAndGlyphs">SLC17A2</text>
<text x="1406" y="652" textLength="110" lengthAdjust="spacingAndGlyphs">HIST1H1A</text>
<text x="1597" y="652" textLength="112" lengthAdjust="spacingAndGlyphs">HIST1H4C</text>
<text x="1732" y="652" textLength="111" lengthAdjust="spacingAndGlyphs">HIST1H1T</text>
<text x="2054" y="652" textLength="112" lengthAdjust="spacingAndGlyphs">HIST1H3D</text>
<text x="2371" y="652" textLength="113" lengthAdjust="spacingAndGlyphs">HIST1H4H</text>
<text x="225" y="674.5" textLength="127" lengthAdjust="spacingAndGlyphs">HIST1H2BA</text>
<text x="920" y="674.5" textLength="97" lengthAdjust="spacingAndGlyphs">SLC17A3</text>
<text x="1120" y="674.5" textLength="81" lengthAdjust="spacingAndGlyphs">TRIM38</text>
<text x="1790" y="674.5" textLength="126" lengthAdjust="spacingAndGlyphs">HIST1H2BC</text>
<text x="359" y="697" textLength="127" lengthAdjust="spacingAndGlyphs">HIST1H2AA</text>
<text x="1547" y="697" textLength="111" lengthAdjust="spacingAndGlyphs">HIST1H1C</text>
<text x="2189" y="697" textLength="113" lengthAdjust="spacingAndGlyphs">HIST1H1D</text>
<text x="1656" y="719.5" textLength="125" lengthAdjust="spacingAndGlyphs">HIST1H2AC</text>
<text x="1788" y="742" textLength="109" lengthAdjust="spacingAndGlyphs">HIST1H1E</text>
</g>
<g font-size="22" fill="#fff">
<text x="1605" y="674.5" textLength="45" lengthAdjust="spacingAndGlyphs">HFE</text>
<text x="1776" y="697" textLength="128" lengthAdjust="spacingAndGlyphs">HIST1H2BD</text>
<text x="2060" y="674.5" textLength="129" lengthAdjust="spacingAndGlyphs">HIST1H2AD</text>
<text x="2695" y="652" textLength="88" lengthAdjust="spacingAndGlyphs">BTN3A1</text>
<text x="2561" y="674.5" textLength="88" lengthAdjust="spacingAndGlyphs">BTN3A2</text>
<text x="2626" y="697" textLength="88" lengthAdjust="spacingAndGlyphs">BTN2A2</text>
<text x="2834" y="674.5" textLength="87" lengthAdjust="spacingAndGlyphs">BTN3A3</text>
<text x="2896" y="697" textLength="88" lengthAdjust="spacingAndGlyphs">BTN2A1</text>
<text x="3052" y="652" textLength="88" lengthAdjust="spacingAndGlyphs">BTN1A1</text>
<text x="3191" y="674.5" textLength="83" lengthAdjust="spacingAndGlyphs">HMGN4</text>
<text x="3427" y="652" textLength="56" lengthAdjust="spacingAndGlyphs">ABT1</text>
</g>
</svg>
</body></html>
